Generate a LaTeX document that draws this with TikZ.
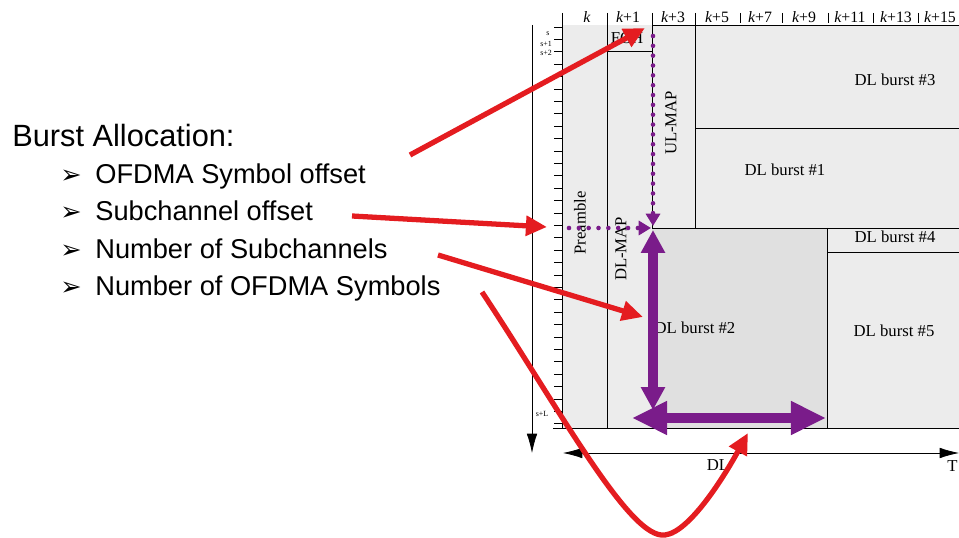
\documentclass[tikz,border=0pt]{standalone}
\usepackage{fontspec}
\setmainfont{Liberation Sans}
\newfontfamily\tnr{Liberation Serif}
\newfontfamily\dingfont{DejaVu Sans}
\usetikzlibrary{arrows.meta}

\definecolor{arrowred}{RGB}{228,28,32}
\definecolor{mappurple}{RGB}{122,28,138}
\definecolor{framegrey}{RGB}{236,236,236}
\definecolor{burstgrey}{RGB}{224,224,224}

\newcommand{\bul}{\makebox[7mm][l]{\dingfont\fontsize{14.5}{12}\selectfont ➢}}

\begin{document}
\begin{tikzpicture}[x=0.2mm,y=-0.2mm,>=latex,
  title/.style={anchor=base west,inner sep=0pt,font=\fontsize{17.5}{20}\selectfont},
  item/.style={anchor=base west,inner sep=0pt,font=\fontsize{15.5}{18}\selectfont},
  lbl/.style={inner sep=0pt,font=\tnr\fontsize{9.5}{10}\selectfont},
  collbl/.style={inner sep=0pt,font=\tnr\fontsize{9}{10}\selectfont},
  tinylbl/.style={inner sep=0pt,font=\tnr\fontsize{4.5}{5}\selectfont},
  redarrow/.style={draw=arrowred,line width=3pt,-{Triangle[length=12pt,width=11pt]}},
  maparrow/.style={draw=mappurple,line width=2.6pt,line cap=round,dash pattern=on 0pt off 5.6pt,-{Triangle[length=7pt,width=8pt]}},
  fatarrow/.style={draw=mappurple,line width=5.7pt,{Triangle[length=13pt,width=13pt]}-{Triangle[length=13pt,width=13pt]}},
  widearrow/.style={draw=mappurple,line width=5.7pt,{Triangle[length=20pt,width=18pt]}-{Triangle[length=20pt,width=18pt]}},
]
  \useasboundingbox (0,0) rectangle (959,538);
  % Burst allocation list
  \node[title] (alloc) at (12,147) {Burst Allocation:};
  \node[item] (symoff) at (60,184) {\bul OFDMA Symbol offset};
  \node[item] (suboff) at (60,221) {\bul Subchannel offset};
  \node[item] (subnum) at (60,259) {\bul Number of Subchannels};
  \node[item] (symnum) at (60,296) {\bul Number of OFDMA Symbols};
  % Grey frame areas
  \fill[framegrey] (562,25) rectangle (959,428);
  \fill[burstgrey] (652,228) rectangle (827,428);
  % Draw axes
  \draw[-{Latex[length=11pt,width=6pt]}] (532,25) -- (532,453);
  \draw (562,13) -- (562,428);
  \foreach \i in {0,...,32}
    \draw (554,{27+12.4*\i}) -- (562,{27+12.4*\i});
  \draw[{Latex[length=11pt,width=6pt]}-{Latex[length=11pt,width=6pt]}] (563,453) -- (959,453);
  % Draw frame columns and bursts
  \draw (553,428) -- (959,428);
  \draw (607,13) -- (607,428);
  \draw (652,13) -- (652,228);
  \draw (695,13) -- (695,228);
  \draw (652,25) -- (959,25);
  \draw (607,51) -- (652,51);
  \draw (695,128) -- (959,128);
  \draw (652,228) -- (959,228);
  \draw (827,228) -- (827,428);
  \draw (827,252) -- (959,252);
  \foreach \x in {740,782,828,873,918}
    \draw (\x,13) -- (\x,23);
  % Column and row labels
  \node[collbl] (ck) at (587,17) {\itshape k};
  \node[collbl] (ck1) at (628,17) {{\itshape k}+1};
  \node[collbl] (ck3) at (673,17) {{\itshape k}+3};
  \node[collbl] (ck5) at (717,17) {{\itshape k}+5};
  \node[collbl] (ck7) at (760,17) {{\itshape k}+7};
  \node[collbl] (ck9) at (804,17) {{\itshape k}+9};
  \node[collbl] (ck11) at (850,17) {{\itshape k}+11};
  \node[collbl] (ck13) at (896,17) {{\itshape k}+13};
  \node[collbl] (ck15) at (940,17) {{\itshape k}+15};
  \node[tinylbl] (rs) at (548,34) {s};
  \node[tinylbl] (rs1) at (546,44) {s+1};
  \node[tinylbl] (rs2) at (546,53) {s+2};
  \node[tinylbl] (rsl) at (542,414) {s+L};
  \node[lbl,anchor=east] (tlbl) at (958,466) {T};
  \node[lbl] (dl) at (718,465) {DL};
  % Region labels
  \node[lbl] (fch) at (627,38) {FCH};
  \node[lbl,rotate=90] (pre) at (580,223) {Preamble};
  \node[lbl,rotate=90] (dlmap) at (621,249) {DL-MAP};
  \node[lbl,rotate=90] (ulmap) at (671,123) {UL-MAP};
  \node[lbl] (b3) at (895,80) {DL burst \#3};
  \node[lbl] (b1) at (785,170) {DL burst \#1};
  \node[lbl] (b4) at (895,237) {DL burst \#4};
  \node[lbl] (b2) at (695,328) {DL burst \#2};
  \node[lbl] (b5) at (894,331) {DL burst \#5};
  % Offsets and sizes of burst #2
  \coordinate (ulmaptop) at (653,36);
  \coordinate (b2corner) at (653,226);
  \coordinate (preleft) at (569,228);
  \coordinate (b2west) at (651,228);
  \draw[maparrow] (ulmaptop) -- (b2corner);
  \draw[maparrow] (preleft) -- (b2west);
  \coordinate (b2top) at (653,230);
  \coordinate (b2low) at (653,410);
  \coordinate (b2left) at (632,418);
  \coordinate (b2right) at (826,418);
  \draw[fatarrow] (b2top) -- (b2low);
  \draw[widearrow] (b2left) -- (b2right);
  % Red pointers from the list
  \coordinate (symoff-from) at (410,155);
  \coordinate (symoff-to) at (645,28);
  \coordinate (suboff-from) at (352,216);
  \coordinate (suboff-to) at (547,227);
  \coordinate (subnum-from) at (438,255);
  \coordinate (subnum-to) at (643,317);
  \coordinate (symnum-from) at (482,292);
  \coordinate (symnum-to) at (748,433);
  \draw[redarrow] (symoff-from) -- (symoff-to);
  \draw[redarrow] (suboff-from) -- (suboff-to);
  \draw[redarrow] (subnum-from) -- (subnum-to);
  \draw[redarrow] (symnum-from) .. controls (560,410) and (630,540) .. (665,535)
    .. controls (690,532) and (725,475) .. (symnum-to);
\end{tikzpicture}
\end{document}
